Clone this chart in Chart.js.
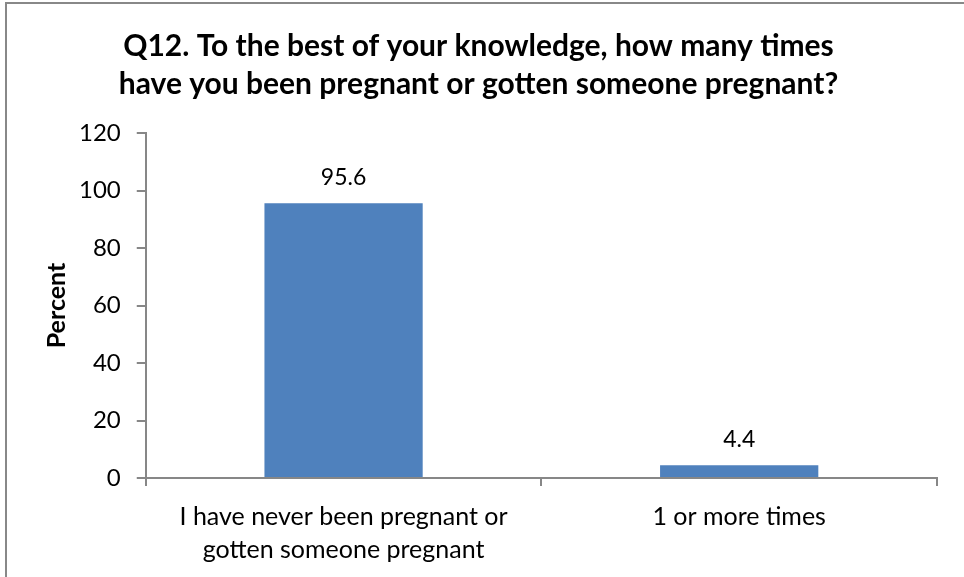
<!DOCTYPE html>
<html>
<head>
<meta charset="utf-8">
<script src="https://cdn.jsdelivr.net/npm/chart.js@4"></script>
<style>
  html, body { margin: 0; padding: 0; background: #fff; }
  #wrap { position: relative; width: 964px; height: 577px; }
</style>
</head>
<body>
<div id="wrap"><canvas id="chart"></canvas></div>
<script>
// Q12 - grossesses
const categories = [
  ['I have never been pregnant or', 'gotten someone pregnant'],
  '1 or more times'
];
const percents = [95.6, 4.4];
const yTicks = [0, 20, 40, 60, 80, 100, 120];

const BLUE = '#4F81BD', AXIS = '#878787';
const FONT = 'Lato, "Open Sans", sans-serif';

// cadre gris (haut + gauche visibles)
const frame = {
  id: 'frame',
  beforeDraw(chart){
    const c = chart.ctx;
    c.save();
    c.fillStyle = '#fff';
    c.fillRect(0, 0, chart.width, chart.height);
    c.strokeStyle = '#888';
    c.lineWidth = 2;
    c.beginPath();
    c.moveTo(6, chart.height);
    c.lineTo(6, 3);
    c.lineTo(chart.width, 3);
    c.stroke();
    c.restore();
  }
};

// valeurs au-dessus des barres
const valueLabels = {
  id: 'valueLabels',
  afterDatasetsDraw(chart){
    const c = chart.ctx;
    const meta = chart.getDatasetMeta(0);
    c.save();
    c.font = '23px ' + FONT;
    c.fillStyle = '#000';
    c.textAlign = 'center';
    c.textBaseline = 'middle';
    meta.data.forEach((bar, i) => {
      c.fillText(percents[i].toFixed(1), bar.x, bar.y - 26);
    });
    c.restore();
  }
};

new Chart(document.getElementById('chart'), {
  type: 'bar',
  data: {
    labels: categories,
    datasets: [{
      data: percents,
      backgroundColor: BLUE,
      borderWidth: 0,
      categoryPercentage: 1,
      barPercentage: 0.4
    }]
  },
  plugins: [frame, valueLabels],
  options: {
    responsive: true,
    maintainAspectRatio: false,
    animation: false,
    layout: { padding: { left: 20, right: 27, top: 0, bottom: -3 } },
    plugins: {
      legend: { display: false },
      tooltip: { enabled: false },
      title: {
        display: true,
        text: ['Q12. To the best of your knowledge, how many times',
               'have you been pregnant or gotten someone pregnant?'],
        color: '#000',
        font: { family: FONT, size: 30, weight: 'bold', lineHeight: 1.25 },
        padding: { top: 28, bottom: 30 }
      }
    },
    scales: {
      x: {
        offset: true,
        // pas de marge imposée par la largeur des libellés
        afterFit(axis){ axis.paddingLeft = 0; axis.paddingRight = 0; },
        border: { color: AXIS, width: 2 },
        grid: { offset: true, drawOnChartArea: false, drawTicks: true, tickLength: 8, color: AXIS, lineWidth: 2 },
        ticks: { color: '#000', font: { family: FONT, size: 25, lineHeight: 1.32 }, padding: 14, maxRotation: 0 }
      },
      y: {
        min: 0, max: 120,
        afterBuildTicks(axis){ axis.ticks = yTicks.map(v => ({ value: v })); },
        border: { color: AXIS, width: 2 },
        grid: { drawOnChartArea: false, drawTicks: true, tickLength: 9, color: AXIS, lineWidth: 2 },
        ticks: { color: '#000', font: { family: FONT, size: 24 }, padding: 16 },
        title: {
          display: true,
          text: 'Percent',
          color: '#000',
          font: { family: FONT, size: 25, weight: 'bold', lineHeight: 1.2 },
          padding: { top: 22, bottom: -9 }
        }
      }
    }
  }
});
</script>
</body>
</html>
